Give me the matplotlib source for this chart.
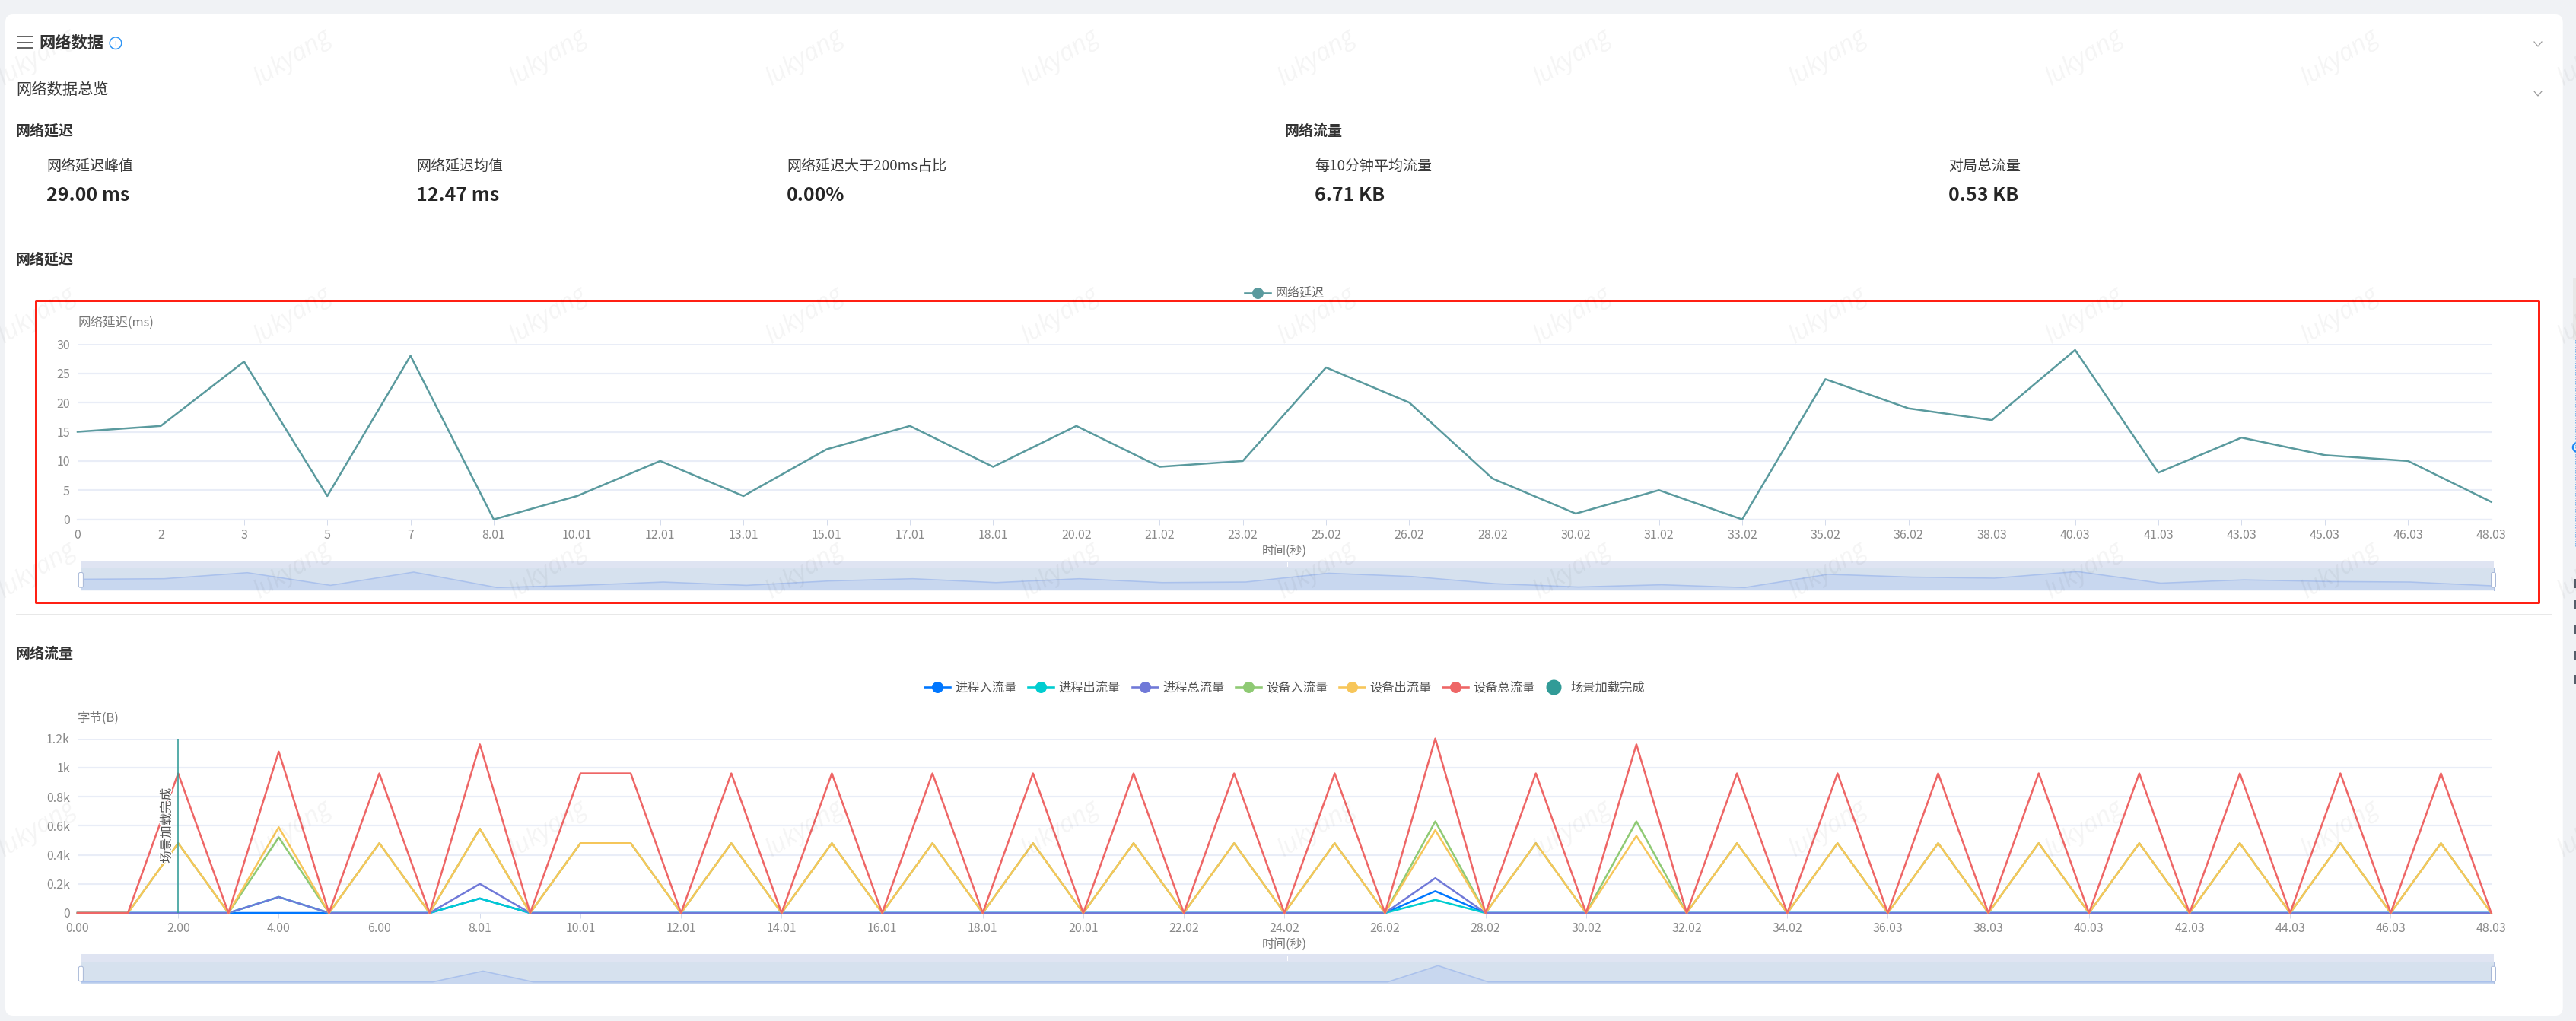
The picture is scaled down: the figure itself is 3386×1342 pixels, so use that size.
import matplotlib
matplotlib.use("Agg")
import matplotlib.pyplot as plt
import matplotlib.patheffects as pe
from matplotlib.lines import Line2D
from matplotlib.patches import Rectangle, FancyBboxPatch, Circle

plt.rcParams['font.family'] = ['Noto Sans CJK SC', 'DejaVu Sans']

# ---------- data ----------
latency_labels = ["0", "2", "3", "5", "7", "8.01", "10.01", "12.01", "13.01", "15.01",
                  "17.01", "18.01", "20.02", "21.02", "23.02", "25.02", "26.02", "28.02",
                  "30.02", "31.02", "33.02", "35.02", "36.02", "38.03", "40.03", "41.03",
                  "43.03", "45.03", "46.03", "48.03"]
latency_values = [15, 16, 27, 4, 28, 0, 4, 10, 4, 12, 16, 9, 16, 9, 10, 26, 20, 7, 1, 5, 0,
                  24, 19, 17, 29, 8, 14, 11, 10, 3]

traffic_labels = ["0.00", "2.00", "4.00", "6.00", "8.01", "10.01", "12.01", "14.01", "16.01",
                  "18.01", "20.01", "22.02", "24.02", "26.02", "28.02", "30.02", "32.02",
                  "34.02", "36.03", "38.03", "40.03", "42.03", "44.03", "46.03", "48.03"]
traffic_seconds = list(range(49))
proc_in = [0, 0, 0, 0, 0, 0, 0, 0, 100, 0, 0, 0, 0, 0, 0, 0, 0, 0, 0, 0, 0, 0, 0, 0, 0, 0, 0,
           150, 0, 0, 0, 0, 0, 0, 0, 0, 0, 0, 0, 0, 0, 0, 0, 0, 0, 0, 0, 0, 0]
proc_out = [0, 0, 0, 0, 110, 0, 0, 0, 100, 0, 0, 0, 0, 0, 0, 0, 0, 0, 0, 0, 0, 0, 0, 0, 0, 0, 0,
            90, 0, 0, 0, 0, 0, 0, 0, 0, 0, 0, 0, 0, 0, 0, 0, 0, 0, 0, 0, 0, 0]
proc_total = [0, 0, 0, 0, 110, 0, 0, 0, 200, 0, 0, 0, 0, 0, 0, 0, 0, 0, 0, 0, 0, 0, 0, 0, 0, 0, 0,
              240, 0, 0, 0, 0, 0, 0, 0, 0, 0, 0, 0, 0, 0, 0, 0, 0, 0, 0, 0, 0, 0]
dev_in = [0, 0, 480, 0, 520, 0, 480, 0, 580, 0, 480, 480, 0, 480, 0, 480, 0, 480, 0, 480, 0, 480,
          0, 480, 0, 480, 0, 630, 0, 480, 0, 630, 0, 480, 0, 480, 0, 480, 0, 480, 0, 480, 0, 480,
          0, 480, 0, 480, 0]
dev_out = [0, 0, 480, 0, 590, 0, 480, 0, 580, 0, 480, 480, 0, 480, 0, 480, 0, 480, 0, 480, 0, 480,
           0, 480, 0, 480, 0, 570, 0, 480, 0, 530, 0, 480, 0, 480, 0, 480, 0, 480, 0, 480, 0, 480,
           0, 480, 0, 480, 0]
dev_total = [0, 0, 960, 0, 1110, 0, 960, 0, 1160, 0, 960, 960, 0, 960, 0, 960, 0, 960, 0, 960, 0,
             960, 0, 960, 0, 960, 0, 1200, 0, 960, 0, 1160, 0, 960, 0, 960, 0, 960, 0, 960, 0, 960,
             0, 960, 0, 960, 0, 960, 0]

traffic_names = ["进程入流量", "进程出流量", "进程总流量", "设备入流量", "设备出流量", "设备总流量"]
traffic_series = [proc_in, proc_out, proc_total, dev_in, dev_out, dev_total]
traffic_colors = ["#0077ff", "#00cdd0", "#7079d8", "#8fca74", "#f7c65a", "#ee6666"]
marker_name = "场景加载完成"
marker_second = 2
marker_color = "#319b97"

latency_ticks = [0, 5, 10, 15, 20, 25, 30]
traffic_ticks = [0, 200, 400, 600, 800, 1000, 1200]
traffic_tick_labels = ["0", "0.2k", "0.4k", "0.6k", "0.8k", "1k", "1.2k"]

stat_latency = [("网络延迟峰值", "29.00 ms", 61), ("网络延迟均值", "12.47 ms", 547),
                ("网络延迟大于200ms占比", "0.00%", 1034)]
stat_traffic = [("每10分钟平均流量", "6.71 KB", 1728), ("对局总流量", "0.53 KB", 2561)]

# ---------- layout helpers ----------
W, H = 3386, 1342
PT = 0.72  # points per pixel at dpi 100
fig = plt.figure(figsize=(W / 100, H / 100), dpi=100, facecolor="#f0f2f5")


def px_axes(left, top, right, bottom, **kw):
    return fig.add_axes([left / W, 1 - bottom / H, (right - left) / W, (bottom - top) / H], **kw)


def overlay(z):
    ax = fig.add_axes([0, 0, 1, 1], zorder=z)
    ax.set_xlim(0, W)
    ax.set_ylim(H, 0)
    ax.axis("off")
    ax.patch.set_alpha(0)
    return ax


bg = overlay(0)
fg = overlay(10)

TXT = "#333333"
GRID = "#e9edf7"
TICK = "#8a8a8a"
GRID_PT = 2.2 * PT
LINE_PT = 2.5 * PT

# card
bg.add_patch(FancyBboxPatch((7, 19), 3361.7, 1316, boxstyle="round,pad=0,rounding_size=10",
                            fc="white", ec="none"))

# header
for y in (48, 55.7, 63):
    bg.plot([23, 43], [y, y], color="#666666", lw=2 * PT, solid_capstyle="butt")
bg.text(51, 56.5, "网络数据", fontsize=21.3 * PT, fontweight="bold", color=TXT, va="center")
bg.add_patch(Circle((152, 56.7), 7.8, fc="white", ec="#2f95f5", lw=1.5 * PT))
bg.text(152, 56.7, "i", fontsize=10 * PT, color="#2f95f5", ha="center", va="center")
bg.text(21, 118.5, "网络数据总览", fontsize=20.3 * PT, color="#3a3a3a", va="center")
for y in (58, 123):
    bg.plot([3331, 3336, 3341], [y - 3, y + 3, y - 3], color="#999999", lw=1.2 * PT)

# overview
bg.text(21, 172, "网络延迟", fontsize=19 * PT, fontweight="bold", color=TXT, va="center")
bg.text(1689, 172, "网络流量", fontsize=19 * PT, fontweight="bold", color=TXT, va="center")
for name, value, x in stat_latency + stat_traffic:
    bg.text(x, 218, name, fontsize=19 * PT, color="#3a3a3a", va="center")
    bg.text(x, 257, value, fontsize=25 * PT, fontweight="bold", color="#262626", va="center")
bg.text(21, 341, "网络延迟", fontsize=19 * PT, fontweight="bold", color=TXT, va="center")
bg.text(21, 859, "网络流量", fontsize=19 * PT, fontweight="bold", color=TXT, va="center")

# separator
bg.plot([21, 3355], [807.7, 807.7], color="#e8e8e8", lw=2 * PT, solid_capstyle="butt")

# sliver of the neighbouring panel at the right edge
bg.add_patch(Rectangle((3382, 366), 4, 81, fc="#e8e8e8", ec="none"))
bg.plot([3385.5, 3385.5], [447, 719], color="#5aa5e8", lw=1.5 * PT, ls=(0, (1, 1)))
bg.add_patch(Circle((3388, 588), 6, fc="none", ec="#1e88f5", lw=2.5 * PT))
for y in (767, 795, 827, 862, 893):
    bg.add_patch(Rectangle((3383, y - 6), 3, 12, fc="#555e6a", ec="none"))


def style_axis(ax, xlabel, ylabel):
    ax.patch.set_alpha(0)
    for s in ("top", "right", "left"):
        ax.spines[s].set_visible(False)
    ax.spines["bottom"].set_color(GRID)
    ax.spines["bottom"].set_linewidth(GRID_PT)
    ax.grid(axis="y", color=GRID, lw=GRID_PT)
    ax.set_axisbelow(True)
    ax.tick_params(axis="y", length=0, pad=10 * PT, labelsize=16 * PT, labelcolor=TICK)
    ax.tick_params(axis="x", length=7 * PT, width=1 * PT, color="#d5dcec", pad=5 * PT,
                   labelsize=16 * PT, labelcolor=TICK)
    ax.set_xlabel(xlabel, fontsize=16 * PT, color="#777777", labelpad=4 * PT)
    ax.set_title(ylabel, loc="left", fontsize=16.5 * PT, color="#777777", pad=22 * PT)


def data_zoom(top, band_top, bottom, xs, ys, y0_px, ymax_px, yref):
    """Slider: handle bar, shaded preview of the first series and the two grips."""
    left, right = 106.4, 3277.5
    bg.add_patch(Rectangle((left, top), right - left, band_top - top - 1, fc="#dfe4f2", ec="none"))
    ax = px_axes(left, band_top, right, bottom, zorder=2)
    ax.set_facecolor("#d6e1ee")
    for s in ax.spines.values():
        s.set_visible(False)
    ax.set_xticks([])
    ax.set_yticks([])
    scale = (y0_px - ymax_px) / yref
    lo = -(bottom - y0_px) / scale
    hi = (y0_px - band_top) / scale
    ax.set_xlim(xs[0], xs[-1])
    ax.set_ylim(lo, hi)
    ax.fill_between(xs, ys, lo, color="#c8d7ef", lw=0)
    ax.plot(xs, ys, color="#aac1ec", lw=1.6 * PT)
    # grips
    for x in (left, right):
        fg.plot([x, x], [band_top, bottom], color="#aebfe0", lw=1 * PT)
        fg.add_patch(FancyBboxPatch((x - 3, band_top + 5.5), 6, bottom - band_top - 9,
                                    boxstyle="round,pad=0,rounding_size=2",
                                    fc="white", ec="#a9b9d8", lw=1 * PT, zorder=3))
    cx = (left + right) / 2 + 0.5
    for dx in (-2.5, 0, 2.5):
        fg.plot([cx + dx, cx + dx], [top + 2.5, top + 7.5], color="white", lw=1 * PT)


# ---------- latency chart ----------
ax1 = px_axes(102, 452.3, 3274.6, 682.7, zorder=1)
x1 = list(range(len(latency_values)))
ax1.plot(x1, latency_values, color="#5a9a9e", lw=LINE_PT, clip_on=False, zorder=3)
ax1.set_xlim(0, len(latency_values) - 1)
ax1.set_ylim(0, 30)
ax1.set_yticks(latency_ticks)
ax1.set_xticks(x1)
ax1.set_xticklabels(latency_labels)
style_axis(ax1, "时间(秒)", "网络延迟(ms)")

proxy = [Line2D([], [], color="#5a9a9e", lw=2.6 * PT, marker="o", ms=15 * PT, mew=0)]
leg0 = ax1.legend(proxy, ["网络延迟"], loc="center left",
                  bbox_to_anchor=(1636 / W, 1 - 385.7 / H), bbox_transform=fig.transFigure,
                  frameon=False, fontsize=16 * PT, labelcolor="#666666", borderpad=0,
                  borderaxespad=0, handlelength=34 / 16, handletextpad=7 / 16)

data_zoom(736.7, 747, 775.7, x1, latency_values, 772.3, 751.3, 29)

# ---------- traffic chart ----------
ax2 = px_axes(102, 970.7, 3274.6, 1200, zorder=1)
for values, color, name in zip(traffic_series, traffic_colors, traffic_names):
    ax2.plot(traffic_seconds, values, color=color, lw=LINE_PT, clip_on=False, zorder=3, label=name)
ax2.set_xlim(0, 48)
ax2.set_ylim(0, 1200)
ax2.set_yticks(traffic_ticks)
ax2.set_yticklabels(traffic_tick_labels)
ax2.set_xticks(traffic_seconds[::2])
ax2.set_xticklabels(traffic_labels)
style_axis(ax2, "时间(秒)", "字节(B)")

ax2.axvline(marker_second, color=marker_color, lw=1.6 * PT, zorder=5)
ax2.annotate(marker_name, xy=(marker_second, 600), xytext=(-15 * PT, 0),
             textcoords="offset points", rotation=90, ha="center", va="center",
             fontsize=16.5 * PT, color="#555555", zorder=6,
             path_effects=[pe.withStroke(linewidth=3 * PT, foreground="white")])

proxies = [Line2D([], [], color=c, lw=2.6 * PT, marker="o", ms=15 * PT, mew=0) for c in traffic_colors]
leg1 = ax2.legend(proxies, traffic_names, loc="center left", ncol=6,
                  bbox_to_anchor=(1215 / W, 1 - 904 / H), bbox_transform=fig.transFigure,
                  frameon=False, fontsize=16.3 * PT, labelcolor="#555555", borderpad=0,
                  borderaxespad=0, handlelength=34 / 16.3, handletextpad=6.5 / 16.3,
                  columnspacing=14.5 / 16.3)
ax2.add_artist(leg1)
proxy2 = [Line2D([], [], color=marker_color, lw=0, marker="o", ms=20 * PT, mew=0)]
ax2.legend(proxy2, [marker_name], loc="center left",
           bbox_to_anchor=(2031.6 / W, 1 - 904 / H), bbox_transform=fig.transFigure,
           frameon=False, fontsize=16.3 * PT, labelcolor="#555555", borderpad=0,
           borderaxespad=0, handlelength=20 / 16.3, handletextpad=13 / 16.3)

data_zoom(1254.3, 1264.8, 1293.3, traffic_seconds, proc_in, 1290.7, 1269.3, 150)

# ---------- red frame and watermark ----------
fg.add_patch(Rectangle((47.4, 395), 3337 - 47.4, 792 - 395, fc="none", ec="#ff2014",
                       lw=3 * PT, joinstyle="round"))
for wy in (76, 415, 750, 1090):
    for k in range(11):
        fg.text(48 + 336.4 * k, wy, "lukyang", rotation=32, rotation_mode="anchor",
                ha="center", va="center", fontsize=33 * PT, color="black", alpha=0.045,
                style="italic", family="Open Sans", clip_on=True)

fig.savefig("out.png", dpi=100, facecolor=fig.get_facecolor())
